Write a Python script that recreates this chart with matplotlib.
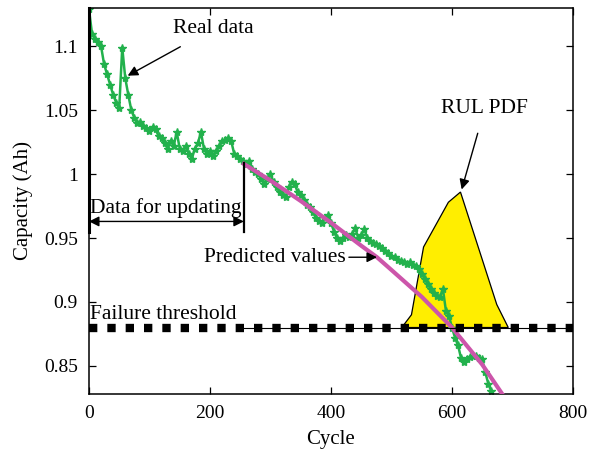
import matplotlib
matplotlib.use("Agg")
import matplotlib.pyplot as plt
import numpy as np

plt.rcParams["font.family"] = ["Liberation Serif", "DejaVu Serif"]
plt.rcParams["mathtext.fontset"] = "stix"

# measured capacity, one value every 5 cycles
cycles = np.arange(0, 670, 5)
capacity = [
    1.129, 1.110, 1.106, 1.103, 1.100, 1.086, 1.078, 1.070, 1.062, 1.056,
    1.052, 1.099, 1.075, 1.062, 1.050, 1.044, 1.040, 1.041, 1.038, 1.036,
    1.034, 1.037, 1.035, 1.030, 1.028, 1.024, 1.020, 1.026, 1.022, 1.033,
    1.020, 1.018, 1.022, 1.016, 1.012, 1.020, 1.024, 1.033, 1.020, 1.016,
    1.018, 1.014, 1.018, 1.022, 1.026, 1.027, 1.028, 1.026, 1.016, 1.014,
    1.012, 1.010, 1.008, 1.010, 1.004, 1.002, 1.000, 0.996, 0.992, 0.996,
    1.000, 0.994, 0.990, 0.986, 0.984, 0.982, 0.990, 0.994, 0.992, 0.986,
    0.984, 0.980, 0.976, 0.974, 0.970, 0.966, 0.963, 0.962, 0.966, 0.968,
    0.962, 0.955, 0.950, 0.948, 0.950, 0.952, 0.951, 0.953, 0.958, 0.950,
    0.952, 0.957, 0.950, 0.948, 0.946, 0.945, 0.944, 0.942, 0.940, 0.938,
    0.936, 0.935, 0.933, 0.932, 0.931, 0.930, 0.931, 0.929, 0.928, 0.926,
    0.922, 0.918, 0.914, 0.910, 0.907, 0.905, 0.904, 0.910, 0.893, 0.889,
    0.880, 0.872, 0.866, 0.856, 0.853, 0.855, 0.857, 0.858, 0.858, 0.856,
    0.855, 0.845, 0.836, 0.830,
]

# predicted capacity from cycle 256
pred_cycles = [256, 300, 350, 400, 450, 476, 500, 550, 600, 650, 683]
pred_capacity = [1.008, 0.995, 0.979, 0.962, 0.944, 0.935, 0.925, 0.904, 0.880, 0.851, 0.828]

# RUL pdf outline (drawn in capacity units above the threshold)
pdf_cycles = [517, 533, 553, 594, 614, 674, 693]
pdf_level = [0.880, 0.890, 0.943, 0.978, 0.986, 0.898, 0.880]

threshold = 0.88
update_end = 256

fig = plt.figure(figsize=(5.9, 4.51), dpi=100)
ax = fig.add_axes([0.1508, 0.1264, 0.8204, 0.8559])

ax.fill(pdf_cycles, pdf_level, facecolor="#ffee00", edgecolor="black", lw=0.9, zorder=1)

ax.plot(cycles, capacity, color="#22b14c", marker="*", ms=6, lw=1.8, zorder=2)
ax.plot(pred_cycles, pred_capacity, color="#cc55aa", lw=3, zorder=3)

ax.plot([update_end, 800], [threshold, threshold], color="black", lw=0.8, zorder=4)
ax.plot([0, 800], [threshold, threshold], color="black", lw=6,
        dashes=(1.0, 1.2), zorder=4)

# data for updating marks
ax.plot([0, 0], [0.955, 1.13], color="black", lw=2.2, zorder=5, clip_on=False)
ax.plot([update_end, update_end], [0.955, 1.009], color="black", lw=1.6, zorder=5)
ax.annotate("", xy=(0, 0.963), xytext=(update_end, 0.963),
            arrowprops=dict(arrowstyle="<|-|>", color="black", lw=1,
                            mutation_scale=15, shrinkA=0, shrinkB=0))
ax.text(2, 0.966, "Data for updating", fontsize=15.5, ha="left", va="bottom")

ax.annotate("Real data", xy=(64, 1.077), xytext=(206, 1.114), fontsize=15.5,
            ha="center", va="center",
            arrowprops=dict(arrowstyle="-|>", color="black", lw=1,
                            mutation_scale=15, shrinkA=9, shrinkB=0))
ax.annotate("RUL PDF", xy=(616, 0.988), xytext=(654, 1.051), fontsize=15.5,
            ha="center", va="center",
            arrowprops=dict(arrowstyle="-|>", color="black", lw=1,
                            mutation_scale=15, shrinkA=9, shrinkB=0))
ax.annotate("Predicted values", xy=(476, 0.935), xytext=(425, 0.935), fontsize=15.5,
            ha="right", va="center",
            arrowprops=dict(arrowstyle="-|>", color="black", lw=1,
                            mutation_scale=15, shrinkA=0, shrinkB=0))
ax.text(2, 0.883, "Failure threshold", fontsize=15.5, ha="left", va="bottom")

ax.set_xlim(0, 800)
ax.set_ylim(0.828, 1.13)
ax.set_xticks([0, 200, 400, 600, 800])
ax.set_yticks([0.85, 0.9, 0.95, 1.0, 1.05, 1.1])
ax.set_yticklabels(["0.85", "0.9", "0.95", "1", "1.05", "1.1"])
ax.tick_params(direction="in", top=True, right=True, labelsize=14, length=5,
               width=0.9, pad=8)
for s in ax.spines.values():
    s.set_linewidth(1.1)
ax.set_xlabel("Cycle", fontsize=15, labelpad=6)
ax.set_ylabel("Capacity (Ah)", fontsize=15, labelpad=8)

fig.savefig("out.png", dpi=100)
